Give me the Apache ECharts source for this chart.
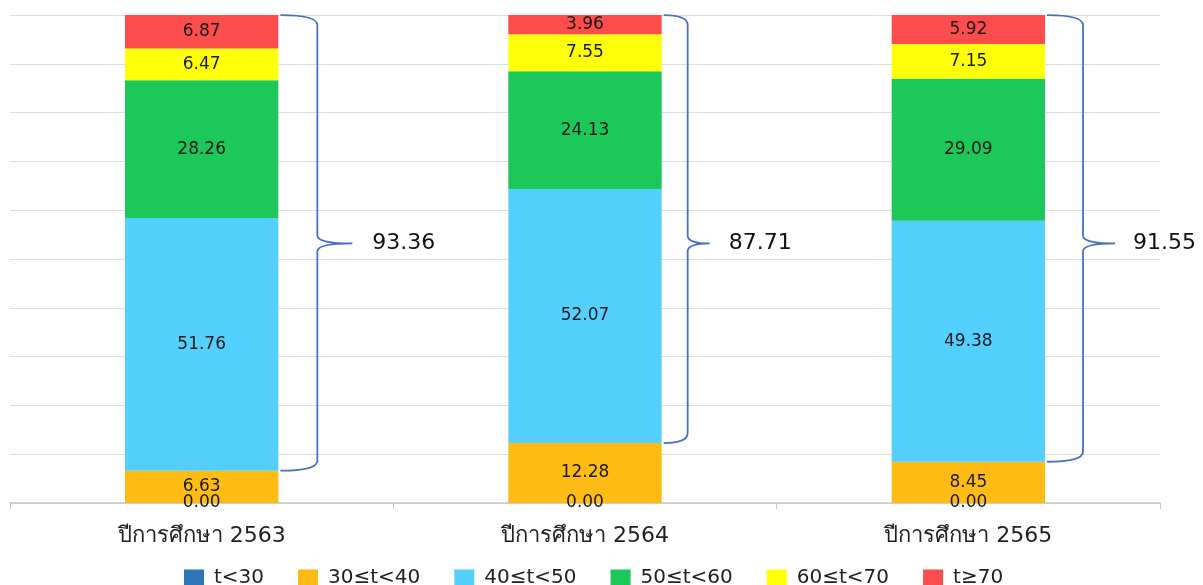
<!DOCTYPE html>
<html>
<head>
<meta charset="utf-8">
<script src="https://cdn.jsdelivr.net/npm/echarts@6/dist/echarts.min.js"></script>
<style>
html,body{margin:0;padding:0;background:#fff;}
#main{width:1203px;height:585px;}
</style>
</head>
<body>
<div id="main"></div>
<script>
// ---- data ----
var categories = ['ปีการศึกษา 2563', 'ปีการศึกษา 2564', 'ปีการศึกษา 2565'];
var seriesNames = ['t<30', '30≤t<40', '40≤t<50', '50≤t<60', '60≤t<70', 't≥70'];
var lt30 = [0.00, 0.00, 0.00];
var r30to40 = [6.63, 12.28, 8.45];
var r40to50 = [51.76, 52.07, 49.38];
var r50to60 = [28.26, 24.13, 29.09];
var r60to70 = [6.47, 7.55, 7.15];
var ge70 = [6.87, 3.96, 5.92];
var braceTotals = ['93.36', '87.71', '91.55'];

// ---- style ----
var colors = ['#2E75B6', '#FDBB13', '#53D0FD', '#1CC85A', '#FFFF0A', '#FD4C4C'];
var values = [lt30, r30to40, r40to50, r50to60, r60to70, ge70];
var FONT = "'DejaVu Sans', 'Noto Sans', sans-serif";

var barSeries = seriesNames.map(function (n, i) {
  return {
    name: n,
    type: 'bar',
    stack: 'total',
    barWidth: '40%',
    data: values[i],
    itemStyle: { color: colors[i] },
    label: {
      show: true,
      position: 'inside',
      color: '#1a1a1a',
      fontSize: 17,
      fontFamily: FONT,
      formatter: function (p) { return p.value.toFixed(2); }
    }
  };
});

var braceDepth = [37, 24, 36];
var braceTip = [35, 22, 32];
var braceLabelGap = [20, 19, 18];
var braceData = categories.map(function (c, i) {
  var top = 0;
  for (var k = 0; k < values.length; k++) top += values[k][i];
  return [i, r30to40[i], top, 53.2];
});

var braceSeries = {
  type: 'custom',
  name: 'brace',
  silent: true,
  clip: false,
  data: braceData,
  encode: { x: 0, y: [1, 2] },
  z: 10,
  renderItem: function (params, api) {
    var idx = params.dataIndex;
    var ci = api.value(0);
    var pTop = api.coord([ci, api.value(2)]);
    var pBot = api.coord([ci, api.value(1)]);
    var pMid = api.coord([ci, api.value(3)]);
    var bw = api.size([1, 0])[0] * 0.4;
    var xe = pTop[0] + bw / 2 + 2;
    var xv = xe + braceDepth[idx];
    var xt = xv + braceTip[idx];
    var yT = pTop[1], yB = pBot[1], yM = pMid[1];
    var r = 10;
    var path = 'M' + xe + ' ' + yT +
      ' Q' + xv + ' ' + yT + ' ' + xv + ' ' + (yT + r) +
      ' L' + xv + ' ' + (yM - 8) +
      ' Q' + xv + ' ' + yM + ' ' + xt + ' ' + yM +
      ' Q' + xv + ' ' + yM + ' ' + xv + ' ' + (yM + 8) +
      ' L' + xv + ' ' + (yB - r) +
      ' Q' + xv + ' ' + yB + ' ' + xe + ' ' + yB;
    return {
      type: 'group',
      children: [
        {
          type: 'path',
          shape: { pathData: path },
          style: { fill: null, stroke: '#4670C0', lineWidth: 1.8 }
        },
        {
          type: 'text',
          x: xt + braceLabelGap[idx],
          y: yM,
          style: {
            text: braceTotals[idx],
            fill: '#111',
            font: '22px ' + FONT,
            verticalAlign: 'middle',
            align: 'left'
          }
        }
      ]
    };
  }
};

var chart = echarts.init(document.getElementById('main'));
chart.setOption({
  backgroundColor: '#fff',
  animation: false,
  grid: { left: 10, right: 43, top: 15, bottom: 82, containLabel: false },
  legend: {
    data: seriesNames,
    top: 568,
    left: 184,
    padding: 0,
    itemWidth: 20,
    itemHeight: 17,
    itemGap: 34,
    icon: 'rect',
    textStyle: { fontSize: 20, color: '#222', fontFamily: FONT, padding: [0, 0, 0, 5] }
  },
  xAxis: {
    type: 'category',
    data: categories,
    axisLine: { lineStyle: { color: '#c8c8c8', width: 1.5 } },
    axisTick: { show: true, length: 6, lineStyle: { color: '#c8c8c8' } },
    axisLabel: { fontSize: 22, color: '#222', margin: 22, fontFamily: FONT }
  },
  yAxis: {
    type: 'value',
    min: 0,
    max: 100,
    interval: 10,
    axisLabel: { show: false },
    axisLine: { show: false },
    axisTick: { show: false },
    splitLine: { lineStyle: { color: '#dedede' } }
  },
  series: barSeries.concat([braceSeries])
});
</script>
</body>
</html>
